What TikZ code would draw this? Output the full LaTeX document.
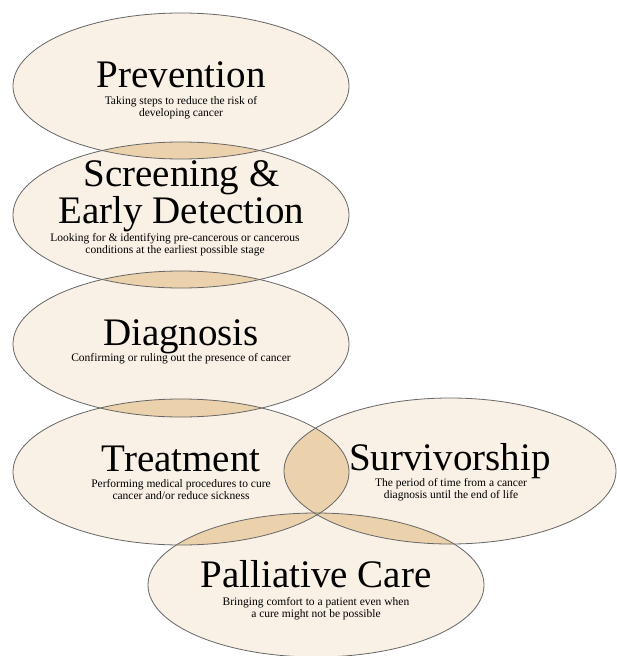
\documentclass[tikz,border=0pt]{standalone}
\usepackage{fontspec}
\setmainfont{Liberation Serif}
\definecolor{cream}{HTML}{F9F0E6}
\definecolor{tan}{HTML}{EBD2AC}
\definecolor{edge}{HTML}{666666}
\tikzset{
  ttl/.style={font=\fontsize{39}{28}\selectfont, text=black, inner sep=0pt, align=center},
  sub/.style={font=\fontsize{11.5}{12}\selectfont, text=black, inner sep=0pt, align=center},
  outline/.style={draw=edge, line width=0.8pt},
}
\def\elP{(181,86) ellipse [x radius=168pt, y radius=73pt]}
\def\elS{(181,215) ellipse [x radius=168pt, y radius=73pt]}
\def\elD{(181,344) ellipse [x radius=168pt, y radius=73pt]}
\def\elT{(181,472) ellipse [x radius=168pt, y radius=73pt]}
\def\elV{(450,471) ellipse [x radius=166pt, y radius=73pt]}
\def\elC{(316,585) ellipse [x radius=168pt, y radius=72pt]}
\begin{document}
\begin{tikzpicture}[x=1pt,y=-1pt]
\useasboundingbox (0,0) rectangle (616,656);
\fill[white] (0,0) rectangle (616,656);
% base fills
\fill[cream] \elP; \fill[cream] \elS; \fill[cream] \elD;
\fill[cream] \elT; \fill[cream] \elV; \fill[cream] \elC;
% overlaps
\begin{scope}\clip \elP; \fill[tan] \elS; \end{scope}
\begin{scope}\clip \elS; \fill[tan] \elD; \end{scope}
\begin{scope}\clip \elD; \fill[tan] \elT; \end{scope}
\begin{scope}\clip \elT; \fill[tan] \elV; \end{scope}
\begin{scope}\clip \elT; \fill[tan] \elC; \end{scope}
\begin{scope}\clip \elV; \fill[tan] \elC; \end{scope}
% outlines
\draw[outline] \elP; \draw[outline] \elS; \draw[outline] \elD;
\draw[outline] \elT; \draw[outline] \elV; \draw[outline] \elC;
% texts
\node[ttl, anchor=base] (prevT) at (181,87) {Prevention};
\node[sub] (prevS) at (181,108) {Taking steps to reduce the risk of\\developing cancer};
\node[ttl, anchor=base] (scrT) at (181.5,223) {Screening \&\\Early Detection};
\node[sub] (scrS) at (175,244.5) {Looking for \& identifying pre-cancerous or cancerous\\conditions at the earliest possible stage};
\node[ttl, anchor=base] (diaT) at (181,345) {Diagnosis};
\node[sub, anchor=base] (diaS) at (181,361.5) {Confirming or ruling out the presence of cancer};
\node[ttl, anchor=base] (treT) at (181,471) {Treatment};
\node[sub] (treS) at (181,490) {Performing medical procedures to cure\\cancer and/or reduce sickness};
\node[ttl, anchor=base] (surT) at (450,470) {Survivorship};
\node[sub] (surS) at (451,490) {The period of time from a cancer\\diagnosis until the end of life};
\node[ttl, anchor=base] (palT) at (316,587) {Palliative Care};
\node[sub] (palS) at (316,608.5) {Bringing comfort to a patient even when\\a cure might not be possible};
\end{tikzpicture}
\end{document}
